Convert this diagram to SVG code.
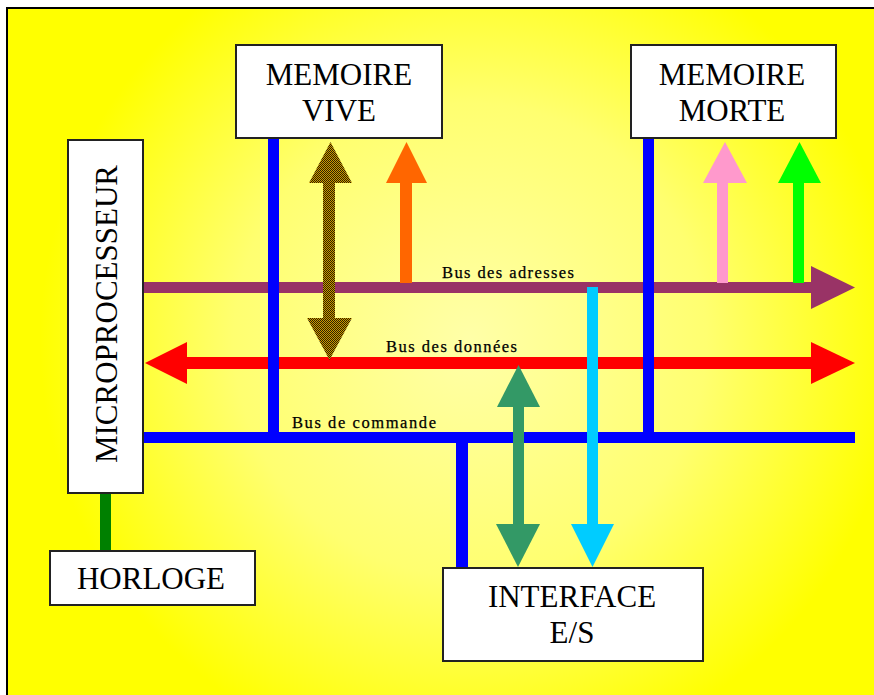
<svg xmlns="http://www.w3.org/2000/svg" width="874" height="695" viewBox="0 0 874 695">
  <defs>
    <radialGradient id="bg" gradientUnits="userSpaceOnUse" cx="470" cy="340" r="430">
      <stop offset="0" stop-color="#ffffa8"/>
      <stop offset="0.55" stop-color="#ffff70"/>
      <stop offset="1" stop-color="#ffff00"/>
    </radialGradient>
    <pattern id="dither" width="2" height="2" patternUnits="userSpaceOnUse">
      <rect width="2" height="2" fill="#cc9900"/>
      <rect width="1" height="1" fill="#2e2000"/>
      <rect x="1" y="1" width="1" height="1" fill="#2e2000"/>
    </pattern>
    <style>
      .box { fill: #ffffff; stroke: #222222; stroke-width: 2; }
      .big { font-family: "Liberation Serif", "Times New Roman", serif; font-size: 31px; fill: #000; text-anchor: middle; }
      .lbl { font-family: "Liberation Serif", "Times New Roman", serif; font-size: 16.5px; fill: #000; stroke: #000; stroke-width: 0.25; }
      .blue { fill: #0000ff; }
      .purple { fill: #993366; }
      .red { fill: #ff0000; }
      .cyan { fill: #00ccff; }
      .sea { fill: #339966; }
      .brown { fill: url(#dither); }
      .orange { fill: #ff6600; }
      .pink { fill: #ff99cc; }
      .lime { fill: #00ff00; }
      .dgreen { fill: #008000; }
    </style>
  </defs>

  <rect x="0" y="0" width="874" height="695" fill="#ffffff"/>
  <rect x="7" y="8" width="890" height="710" fill="url(#bg)" stroke="#000" stroke-width="2"/>

  <g id="connectors">
    <!-- Bus des adresses -->
    <rect class="purple" x="143" y="282" width="668" height="11"/>
    <polygon class="purple" points="811,266 855,287.5 811,309"/>
    <!-- Bus des données -->
    <rect class="red" x="187" y="357" width="624" height="12"/>
    <polygon class="red" points="187,342 145,363 187,384"/>
    <polygon class="red" points="811,342 855,363 811,384"/>
    <!-- Bus de commande -->
    <rect class="blue" x="143" y="432" width="712" height="11"/>
    <rect class="blue" x="268" y="138" width="11" height="300"/>
    <rect class="blue" x="643" y="138" width="11" height="300"/>
    <rect class="blue" x="456" y="437" width="12" height="131"/>
    <!-- Memoire vive arrows -->
    <rect class="brown" x="323" y="182" width="12" height="137"/>
    <polygon class="brown" points="309,183 352,183 330.5,142"/>
    <polygon class="brown" points="307,318 352,318 329.5,360"/>
    <rect class="orange" x="400" y="182" width="12" height="101"/>
    <polygon class="orange" points="386,183 427,183 406.5,142"/>
    <!-- Memoire morte arrows -->
    <rect class="pink" x="717" y="182" width="11" height="101"/>
    <polygon class="pink" points="703,183 747,183 725,142"/>
    <rect class="lime" x="793" y="182" width="11" height="101"/>
    <polygon class="lime" points="778,183 821,183 799.5,142"/>
    <!-- Interface arrows -->
    <rect class="cyan" x="587" y="287" width="11" height="238"/>
    <polygon class="cyan" points="571,524 614,524 592.5,567"/>
    <rect class="sea" x="513" y="406" width="11" height="119"/>
    <polygon class="sea" points="497,407 540,407 518.5,365"/>
    <polygon class="sea" points="496,524 540,524 518,567"/>
    <!-- Horloge link -->
    <rect class="dgreen" x="100" y="493" width="11" height="58"/>

    <text class="lbl" x="442" y="278" textLength="132" lengthAdjust="spacing">Bus des adresses</text>
    <text class="lbl" x="386" y="352" textLength="131" lengthAdjust="spacing">Bus des données</text>
    <text class="lbl" x="292" y="428" textLength="144" lengthAdjust="spacing">Bus de commande</text>
  </g>

  <g id="memoire-vive">
    <rect class="box" x="236" y="45" width="206" height="93"/>
    <text class="big" x="339" y="85">MEMOIRE</text>
    <text class="big" x="339" y="121">VIVE</text>
  </g>

  <g id="memoire-morte">
    <rect class="box" x="631" y="45" width="205" height="93"/>
    <text class="big" x="732" y="85">MEMOIRE</text>
    <text class="big" x="732" y="121">MORTE</text>
  </g>

  <g id="microprocesseur">
    <rect class="box" x="68" y="140" width="75" height="353"/>
    <text class="big" transform="translate(117,314) rotate(-90)" x="0" y="0">MICROPROCESSEUR</text>
  </g>

  <g id="horloge">
    <rect class="box" x="50" y="551" width="205" height="54"/>
    <text class="big" x="151" y="589">HORLOGE</text>
  </g>

  <g id="interface">
    <rect class="box" x="443" y="568" width="260" height="93"/>
    <text class="big" x="572" y="607">INTERFACE</text>
    <text class="big" x="572" y="643">E/S</text>
  </g>
</svg>
